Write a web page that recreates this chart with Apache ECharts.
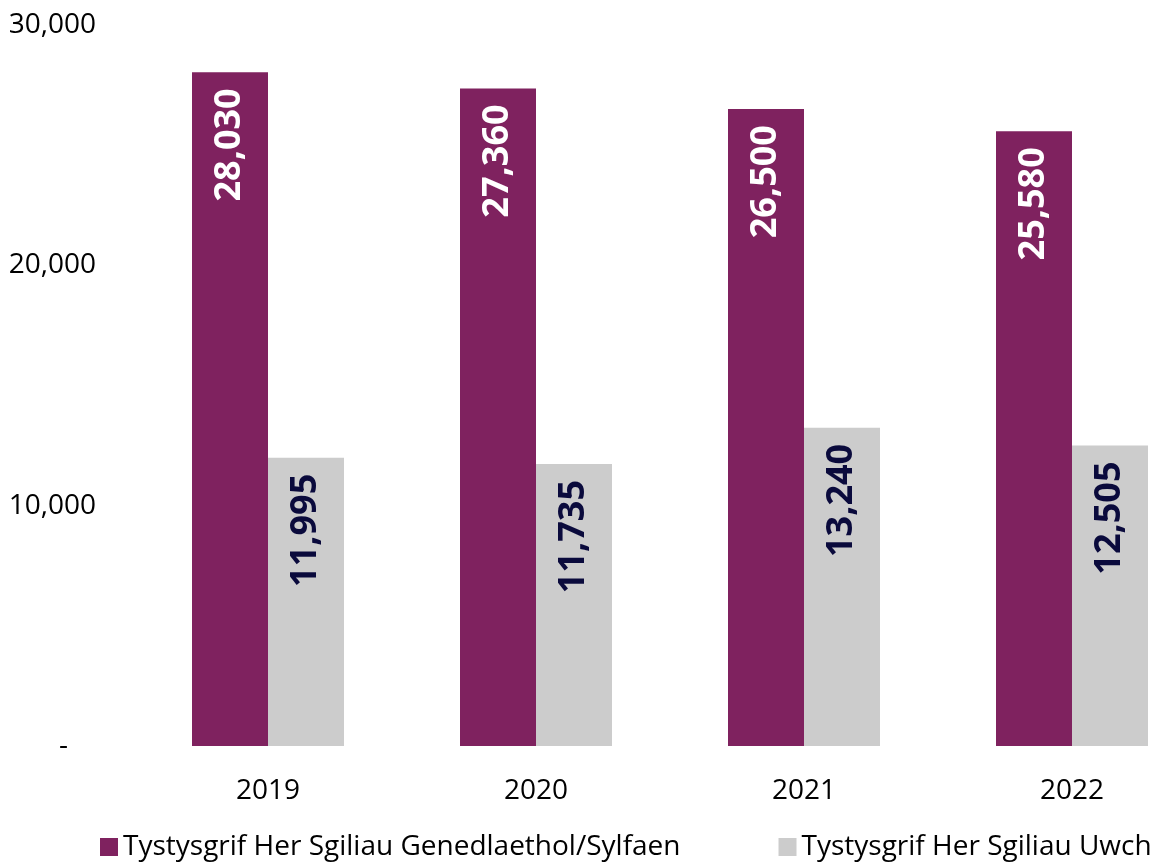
<!DOCTYPE html>
<html>
<head>
<meta charset="utf-8">
<script src="https://cdn.jsdelivr.net/npm/echarts@6/dist/echarts.min.js"></script>
<style>
  html, body { margin: 0; padding: 0; background: #fff; overflow: hidden; }
  /* chart is a bit wider than the window: the last bar runs to the edge */
  #main { width: 1206px; height: 865px; }
</style>
</head>
<body>
<div id="main"></div>
<script>
var years = ["2019", "2020", "2021", "2022"]
var seriesNames = ["Tystysgrif Her Sgiliau Genedlaethol/Sylfaen", "Tystysgrif Her Sgiliau Uwch"]
var foundation = [28030, 27360, 26500, 25580]
var advanced = [11995, 11735, 13240, 12505]

var font = "Open Sans"

function fmt(v) {
  return v.toString().replace(/\B(?=(\d{3})+(?!\d))/g, ",")
}

var chart = echarts.init(document.getElementById("main"), null, { renderer: "canvas" })

var option = {
  animation: false,
  color: ["#7F225F", "#CCCCCC"],
  textStyle: { fontFamily: font },
  grid: { left: 134, top: 25, right: 0, bottom: 119, containLabel: false },
  legend: {
    left: 95,
    top: 828,
    icon: "rect",
    itemWidth: 18,
    itemHeight: 18,
    itemGap: 98,
    textStyle: { fontFamily: font, fontSize: 28, color: "#000", padding: [0, 0, 0, 0] },
    data: seriesNames,
  },
  xAxis: {
    type: "category",
    data: years,
    axisLine: { show: false },
    axisTick: { show: false },
    axisLabel: { fontFamily: font, fontSize: 28, color: "#000", margin: 31 },
  },
  yAxis: {
    type: "value",
    min: 0,
    max: 30000,
    interval: 10000,
    splitLine: { show: false },
    axisLine: { show: false },
    axisTick: { show: false },
    axisLabel: {
      fontFamily: font,
      fontSize: 28,
      color: "#000",
      margin: 38,
      formatter: function (v) {
        return v === 0 ? "{d|-}" : fmt(v)
      },
      rich: { d: { fontFamily: font, fontSize: 28, color: "#000", padding: [0, 28, 0, 0] } },
    },
  },
  series: [
    {
      name: seriesNames[0],
      type: "bar",
      data: foundation,
      barWidth: 76,
      barGap: "0%",
      label: {
        show: true,
        position: "insideTop",
        distance: 16,
        rotate: 90,
        align: "right",
        verticalAlign: "middle",
        fontFamily: font,
        fontWeight: "bold",
        fontSize: 36,
        color: "#fff",
        formatter: function (p) { return fmt(p.value) },
      },
    },
    {
      name: seriesNames[1],
      type: "bar",
      data: advanced,
      barWidth: 76,
      label: {
        show: true,
        position: "insideTop",
        distance: 16,
        rotate: 90,
        align: "right",
        verticalAlign: "middle",
        fontFamily: font,
        fontWeight: "bold",
        fontSize: 36,
        color: "#0A0A3C",
        formatter: function (p) { return fmt(p.value) },
      },
    },
  ],
}

chart.setOption(option)
</script>
</body>
</html>
